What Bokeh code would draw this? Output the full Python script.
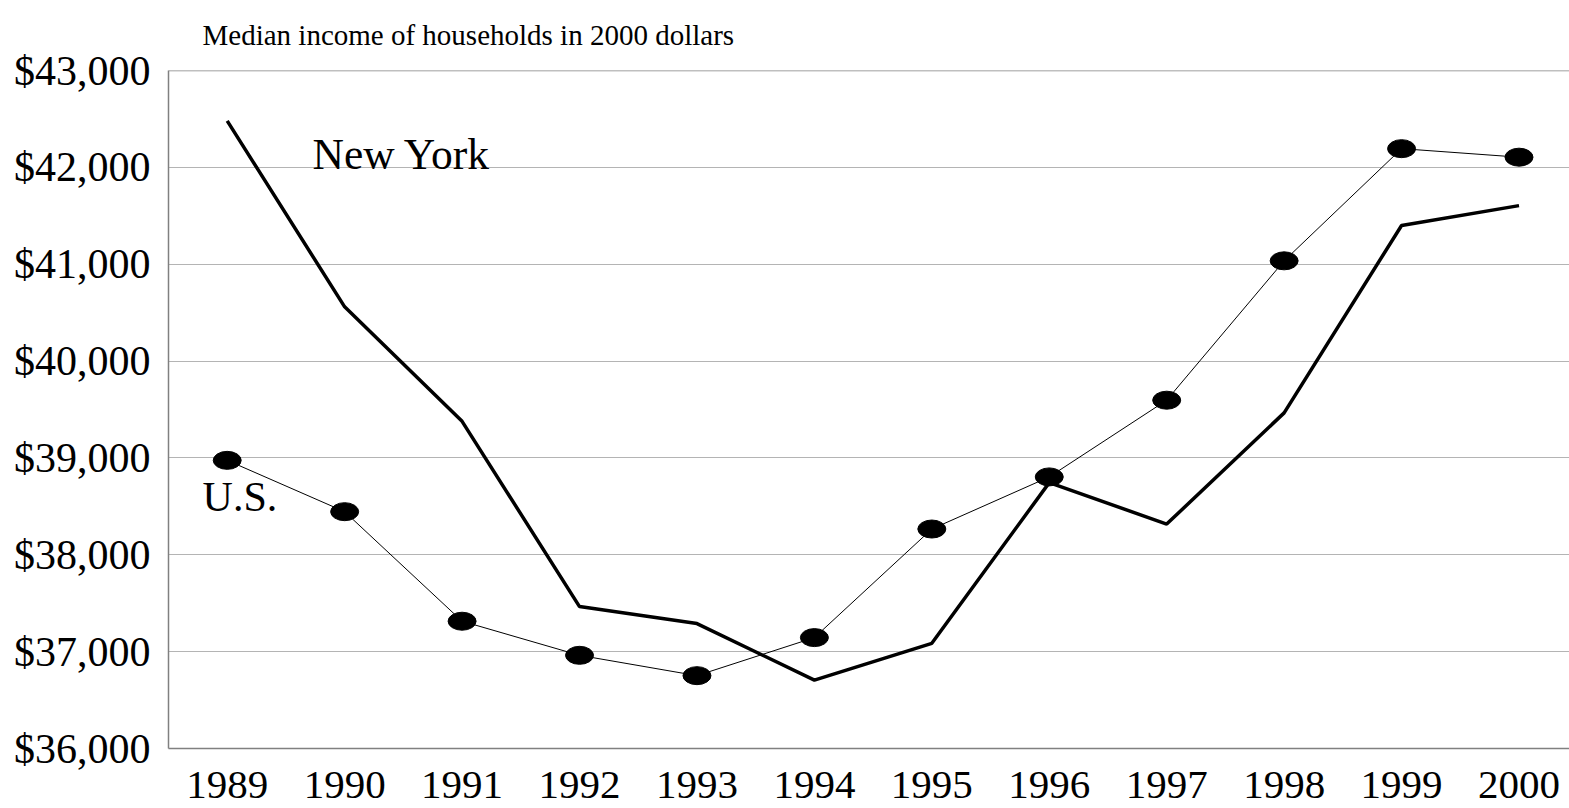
from bokeh.plotting import figure
from bokeh.models import Range1d, FixedTicker, NumeralTickFormatter, Label, Span
from bokeh.embed import file_html
from bokeh.resources import INLINE

years = [1989, 1990, 1991, 1992, 1993, 1994, 1995, 1996, 1997, 1998, 1999, 2000]
new_york = [42480, 40560, 39378, 37465, 37290, 36706, 37086, 38745, 38317, 39465, 41400, 41605]
us = [38975, 38445, 37314, 36962, 36752, 37145, 38266, 38804, 39596, 41035, 42193, 42105]
y_ticks = [36000, 37000, 38000, 39000, 40000, 41000, 42000, 43000]

title_text = "Median income of households in 2000 dollars"
ny_label = "New York"
us_label = "U.S."

FONT = "Liberation Serif"

p = figure(width=1569, height=808, output_backend="svg", toolbar_location=None,
           x_range=Range1d(1988.5, 2000.43), y_range=Range1d(36000, 43000),
           min_border_left=168, min_border_right=0, min_border_top=70, min_border_bottom=60)
p.outline_line_color = None
p.background_fill_color = "white"

p.title.text = title_text
p.title.align = "left"
p.title.offset = 34
p.title.text_font = FONT
p.title.text_font_size = "29px"
p.title.text_font_style = "normal"
p.title.text_color = "black"
p.title.vertical_align = "top"
p.title.standoff = 35

p.xgrid.grid_line_color = None
p.ygrid.grid_line_color = "#b4b4b4"
p.ygrid.grid_line_width = 1

p.xaxis.ticker = FixedTicker(ticks=years)
p.yaxis.ticker = FixedTicker(ticks=y_ticks)
p.yaxis.formatter = NumeralTickFormatter(format="$0,0")
for ax in (p.xaxis, p.yaxis):
    ax.major_tick_line_color = None
    ax.minor_tick_line_color = None
    ax.major_tick_out = 0
    ax.major_tick_in = 0
    ax.axis_line_color = "#808080"
    ax.axis_line_width = 1.5
    ax.major_label_text_font = FONT
    ax.major_label_text_color = "black"
p.yaxis.major_label_text_font_size = "42px"
p.xaxis.major_label_text_font_size = "41px"
p.yaxis.major_label_standoff = 18
p.xaxis.major_label_standoff = 23

p.add_layout(Span(location=43000, dimension="width", line_color="#808080", line_width=1.5))

p.line(years, new_york, line_color="black", line_width=3.5)
p.line(years, us, line_color="black", line_width=1)
p.ellipse(years, us, width=28, height=18, width_units="screen", height_units="screen",
          fill_color="black", line_color="black")

p.add_layout(Label(x=1989.726, y=42142, text=ny_label, text_font=FONT, text_font_size="43.5px",
                   text_baseline="middle", text_align="left", text_color="black"))
p.add_layout(Label(x=1988.79, y=38600, text=us_label, text_font=FONT, text_font_size="42px",
                   text_baseline="middle", text_align="left", text_color="black"))

open("out.html", "w").write(file_html(p, INLINE))
